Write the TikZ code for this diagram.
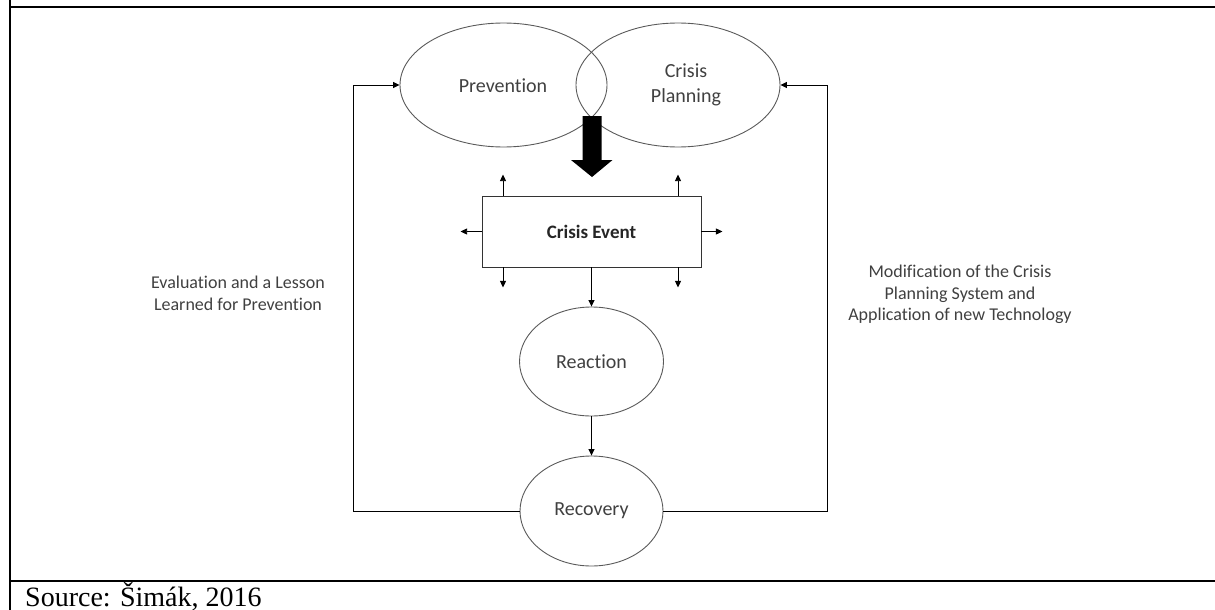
\documentclass[tikz,border=0pt]{standalone}
\usepackage{fontspec}
\setmainfont{Carlito}[Ligatures=NoCommon]
\newfontfamily\srcfont{Liberation Serif}
\usetikzlibrary{shapes.geometric,arrows.meta}
\definecolor{txt}{HTML}{404040}
\definecolor{edge}{HTML}{5A5A5A}
\tikzset{
  ell/.style={ellipse, draw=edge, line width=0.9pt, inner sep=0pt, text=txt,
    font=\fontsize{20}{24}\selectfont, align=center},
  lbl/.style={text=txt, font=\fontsize{18}{21.5}\selectfont, align=center, inner sep=0pt},
  conn/.style={draw=black, line width=0.8pt},
  arr/.style={conn, -{Triangle[length=6.5pt,width=6pt]}},
  frame/.style={draw=black, line width=2.6pt}
}
\begin{document}
\begin{tikzpicture}[x=1pt,y=-1pt]
\useasboundingbox (0,0) rectangle (1215,610);
% frame
\draw[frame] (9.5,7) -- (1215,7);
\draw[frame] (9.5,581) -- (1215,581);
\draw[draw=black, line width=2pt] (9.5,0) -- (9.5,610);
\node[anchor=base west, inner sep=0pt, font=\srcfont\fontsize{28}{32}\selectfont] (src) at (25,606) {Source: Šimák, 2016};

% ellipses
\node[ell, minimum width=207pt, minimum height=124pt] (prev) at (503.5,85) {};
\node[ell, minimum width=204pt, minimum height=124pt] (cp) at (678,85) {};
\node[text=txt, font=\fontsize{20}{24}\selectfont, inner sep=0pt] (prevtxt) at (503,86) {Prevention};
\node[text=txt, font=\fontsize{20}{24.5}\selectfont, align=center, inner sep=0pt] (cptxt) at (686,85) {Crisis\\Planning};

% crisis event
\node[draw=black!80, line width=0.9pt, minimum width=219pt, minimum height=71pt, inner sep=0pt,
      text=black!85, font=\bfseries\fontsize{19}{23}\selectfont] (ce) at (591.5,231.5) {Crisis Event};

\node[ell, minimum width=144pt, minimum height=109pt] (rea) at (591.5,361.5) {Reaction};
\node[ell, minimum width=143pt, minimum height=110pt] (rec) at (591.5,511) {Recovery};

% block arrow
\coordinate (ba) at (592,116);
\fill[black] ([xshift=-9.5pt]ba) -- ([xshift=9.5pt]ba) -- ++(0,44) -- ++(11,0) -- (592,177)
  -- (571,160) -- (582.5,160) -- cycle;

% small arrows around crisis event
\draw[arr] ([xshift=-88.5pt]ce.north) -- ++(0,-21);
\draw[arr] ([xshift=86.5pt]ce.north) -- ++(0,-21);
\draw[arr] ([xshift=-88.5pt]ce.south) -- ++(0,20);
\draw[arr] ([xshift=86.5pt]ce.south) -- ++(0,20);
\draw[arr] (ce.west) -- ++(-21,0);
\draw[arr] (ce.east) -- ++(21,0);

% main flow
\draw[arr] (ce.south) -- (rea.north);
\draw[arr] (rea.south) -- (rec.north);

% feedback loops
\coordinate (lc) at (353.5,511);
\coordinate (rc) at (827,511);
\draw[arr] (rec.west) -- (lc) |- (prev.west);
\draw[arr] (rec.east) -- (rc) |- (cp.east);

% labels
\node[lbl] (evl) at (238,293.5) {Evaluation and a Lesson\\Learned for Prevention};
\node[lbl] (mod) at (960,294.5) {Modification of the Crisis\\Planning System and\\Application of new Technology};
\end{tikzpicture}
\end{document}
